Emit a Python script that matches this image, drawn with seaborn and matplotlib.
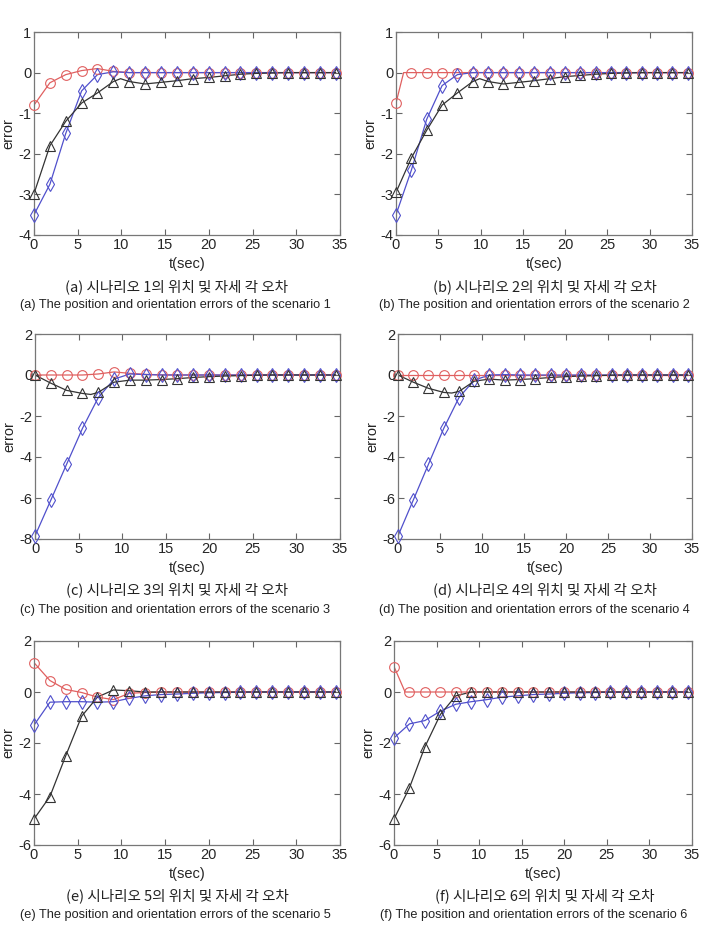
import matplotlib
matplotlib.use("Agg")
import matplotlib.pyplot as plt
import seaborn as sns
import pandas as pd

# sample times of the markers (s)
T_MARK = [0.0, 1.82, 3.63, 5.45, 7.26, 9.08, 10.89, 12.71, 14.53, 16.34,
          18.16, 19.97, 21.79, 23.61, 25.42, 27.24, 29.05, 30.87, 32.68, 34.5]

# scenario 1
A_RED = [-0.8, -0.25, -0.05, 0.05, 0.1, 0.03, 0, 0, 0, 0, 0, 0, 0, 0, 0, 0, 0, 0, 0, 0]
A_BLUE = [-3.5, -2.75, -1.5, -0.45, -0.05, 0.02, 0, 0, 0, 0, 0, 0, 0, 0, 0, 0, 0, 0, 0, 0]
A_BLACK = [-2.98, -1.8, -1.2, -0.75, -0.5, -0.22, -0.22, -0.28, -0.24, -0.2,
           -0.15, -0.12, -0.08, -0.04, -0.02, -0.01, 0, 0, 0, 0]
A_KNOTS = {"black": ([9.9], [-0.15])}

# scenario 2
B_RED = [-0.75, 0, 0, 0, 0, 0, 0, 0, 0, 0, 0, 0, 0, 0, 0, 0, 0, 0, 0, 0]
B_BLUE = [-3.5, -2.4, -1.15, -0.32, -0.05, 0.0, 0, 0, 0, 0, 0, 0, 0, 0, 0, 0, 0, 0, 0, 0]
B_BLACK = [-2.95, -2.1, -1.42, -0.8, -0.5, -0.22, -0.22, -0.28, -0.24, -0.2,
           -0.15, -0.1, -0.07, -0.04, -0.02, -0.01, 0, 0, 0, 0]
B_KNOTS = {"red": ([0.9], [0.0]), "black": ([9.9], [-0.15])}

# scenario 3
C_RED = [0, 0, 0, 0, 0.05, 0.15, 0.08, 0.03, 0.01, 0, 0, 0, 0, 0, 0, 0, 0, 0, 0, 0]
C_BLUE = [-7.85, -6.1, -4.35, -2.6, -1.1, -0.2, 0.05, 0.02, 0, 0, 0, 0, 0, 0, 0, 0, 0, 0, 0, 0]
C_BLACK = [0, -0.4, -0.75, -0.9, -0.85, -0.35, -0.25, -0.25, -0.22, -0.18,
           -0.12, -0.08, -0.05, -0.03, -0.01, 0, 0, 0, 0, 0]
C_KNOTS = {"black": ([6.4], [-0.95])}

# scenario 4
D_RED = [0] * 20
D_BLUE = [-7.85, -6.1, -4.35, -2.6, -1.1, -0.25, 0.0, 0.02, 0, 0, 0, 0, 0, 0, 0, 0, 0, 0, 0, 0]
D_BLACK = [0, -0.35, -0.65, -0.85, -0.8, -0.3, -0.2, -0.25, -0.22, -0.18,
           -0.12, -0.08, -0.05, -0.03, -0.01, 0, 0, 0, 0, 0]
D_KNOTS = {"black": ([6.4], [-0.88])}

# scenario 5
E_RED = [1.15, 0.45, 0.1, -0.02, -0.2, -0.3, -0.05, -0.02, 0, 0, 0, 0, 0, 0, 0, 0, 0, 0, 0, 0]
E_BLUE = [-1.3, -0.4, -0.38, -0.38, -0.4, -0.38, -0.25, -0.15, -0.1, -0.08,
          -0.05, -0.03, -0.02, -0.01, 0, 0, 0, 0, 0, 0]
E_BLACK = [-4.98, -4.1, -2.5, -0.95, -0.2, 0.08, 0.05, 0.0, 0, 0, 0, 0, 0, 0, 0, 0, 0, 0, 0, 0]
E_KNOTS = {}

# scenario 6
F_RED = [1.0, 0, 0, 0, 0, 0, 0, 0, 0, 0, 0, 0, 0, 0, 0, 0, 0, 0, 0, 0]
F_BLUE = [-1.8, -1.25, -1.12, -0.75, -0.48, -0.38, -0.3, -0.2, -0.15, -0.1,
          -0.08, -0.05, -0.03, -0.02, -0.01, 0, 0, 0, 0, 0]
F_BLACK = [-4.98, -3.75, -2.15, -0.88, -0.15, 0.0, 0, 0, 0, 0, 0, 0, 0, 0, 0, 0, 0, 0, 0, 0]
F_KNOTS = {"red": ([1.3], [0.0])}

KO_CAPTIONS = ["(a) 시나리오 1의 위치 및 자세 각 오차", "(b) 시나리오 2의 위치 및 자세 각 오차",
               "(c) 시나리오 3의 위치 및 자세 각 오차", "(d) 시나리오 4의 위치 및 자세 각 오차",
               "(e) 시나리오 5의 위치 및 자세 각 오차", "(f) 시나리오 6의 위치 및 자세 각 오차"]
EN_CAPTIONS = ["(a) The position and orientation errors of the scenario 1",
               "(b) The position and orientation errors of the scenario 2",
               "(c) The position and orientation errors of the scenario 3",
               "(d) The position and orientation errors of the scenario 4",
               "(e) The position and orientation errors of the scenario 5",
               "(f) The position and orientation errors of the scenario 6"]

PANELS = [
    (A_RED, A_BLUE, A_BLACK, A_KNOTS, (-4, 1), [-4, -3, -2, -1, 0, 1]),
    (B_RED, B_BLUE, B_BLACK, B_KNOTS, (-4, 1), [-4, -3, -2, -1, 0, 1]),
    (C_RED, C_BLUE, C_BLACK, C_KNOTS, (-8, 2), [-8, -6, -4, -2, 0, 2]),
    (D_RED, D_BLUE, D_BLACK, D_KNOTS, (-8, 2), [-8, -6, -4, -2, 0, 2]),
    (E_RED, E_BLUE, E_BLACK, E_KNOTS, (-6, 2), [-6, -4, -2, 0, 2]),
    (F_RED, F_BLUE, F_BLACK, F_KNOTS, (-6, 2), [-6, -4, -2, 0, 2]),
]

STYLE = {
    "red": ("#e06060", "o", 7.0),
    "blue": ("#5050cc", "d", 7.5),
    "black": ("#333333", "^", 7.0),
}

sns.set_style("ticks")
plt.rcParams["font.family"] = ["Liberation Sans", "DejaVu Sans"]
plt.rcParams["xtick.direction"] = "in"
plt.rcParams["ytick.direction"] = "in"
plt.rcParams["axes.unicode_minus"] = False

W, H = 705, 930
fig = plt.figure(figsize=(W / 100, H / 100), dpi=100)

# axes boxes in pixels: left, right, top, bottom
boxes = [(34, 340, 32, 235), (396, 692, 32, 235),
         (35, 340, 334, 539), (398, 692, 334, 539),
         (34, 340, 641, 845), (394, 692, 641, 845)]
ko_y = [287, 287, 590, 590, 896, 896]
en_y = [305, 305, 610, 610, 915, 915]
ko_x = [177, 545]
en_x = [175, 534]

for i, (panel, box) in enumerate(zip(PANELS, boxes)):
    red, blue, black, knots, ylim, yticks = panel
    l, r, t, b = box
    ax = fig.add_axes([l / W, 1 - b / H, (r - l) / W, (b - t) / H])

    for name, vals in (("red", red), ("blue", blue), ("black", black)):
        color, marker, ms = STYLE[name]
        kx, ky = knots.get(name, ([], []))
        line = pd.DataFrame({"t": T_MARK + list(kx), "e": vals + list(ky)}).sort_values("t")
        sns.lineplot(data=line, x="t", y="e", color=color, linewidth=0.9,
                     estimator=None, sort=True, ax=ax)
        pts = pd.DataFrame({"t": T_MARK, "e": vals})
        sns.lineplot(data=pts, x="t", y="e", color=color, linestyle="none",
                     marker=marker, markersize=ms, markerfacecolor="none",
                     markeredgecolor=color, markeredgewidth=0.8,
                     estimator=None, clip_on=False, zorder=3, ax=ax)

    ax.set_xlim(0, 35)
    ax.set_ylim(*ylim)
    ax.set_xticks(range(0, 36, 5))
    ax.set_yticks(yticks)
    ax.tick_params(top=True, right=True, length=4, width=0.8, color="#666666",
                   labelsize=10.5, pad=2)
    for sp in ax.spines.values():
        sp.set_color("#777777")
        sp.set_linewidth(0.9)
    ax.set_xlabel("t(sec)", fontsize=10.5, labelpad=4)
    ax.set_ylabel("error", fontsize=10.5, labelpad=2)

    col = i % 2
    fig.text(ko_x[col] / W, 1 - ko_y[i] / H, KO_CAPTIONS[i], ha="center", va="center",
             fontsize=10.5, family=["Noto Sans CJK KR", "DejaVu Sans"], color="#222222")
    fig.text(en_x[col] / W, 1 - en_y[i] / H, EN_CAPTIONS[i], ha="center", va="center",
             fontsize=9.2, family=["Liberation Sans", "DejaVu Sans"], color="#222222")

fig.savefig("out.png", dpi=100)
